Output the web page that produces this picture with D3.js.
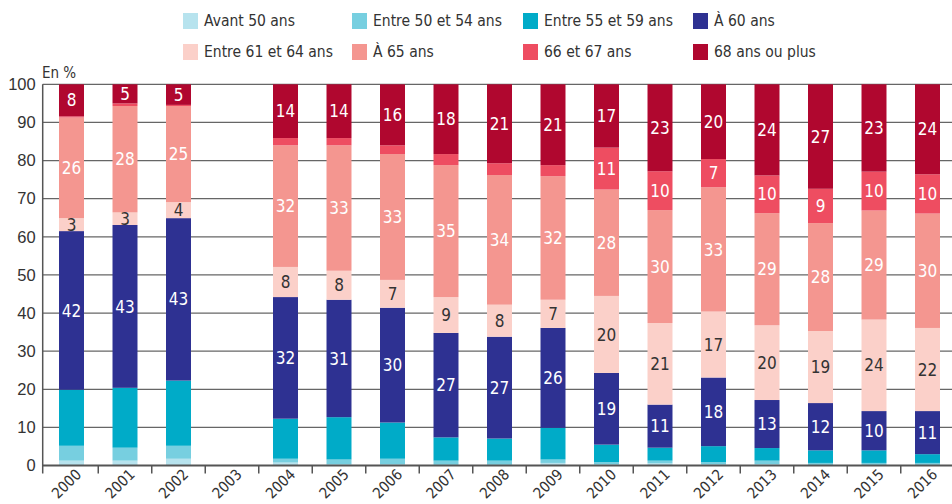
<!DOCTYPE html>
<html>
<head>
<meta charset="utf-8">
<script src="https://cdn.jsdelivr.net/npm/d3@7"></script>
<style>
  body { margin: 0; background: #fff; }
  svg { display: block; font-family: "Liberation Sans Narrow", "DejaVu Sans Condensed", "Roboto", sans-serif; font-stretch: condensed; }
</style>
</head>
<body>
<svg id="chart" width="952" height="504"></svg>
<script>
// =========================
// DATI
// =========================
const years = ["2000", "2001", "2002", "2003", "2004", "2005", "2006", "2007", "2008",
  "2009", "2010", "2011", "2012", "2013", "2014", "2015", "2016"];

const seriesNames = ["Avant 50 ans", "Entre 50 et 54 ans", "Entre 55 et 59 ans", "À 60 ans",
  "Entre 61 et 64 ans", "À 65 ans", "66 et 67 ans", "68 ans ou plus"];

const seriesColors = ["#b7e3ee", "#77cfe0", "#00abc8", "#2e3192",
  "#fbd0c9", "#f49690", "#ee4d61", "#b0072f"];

// valeurs en %, 2003 sans donnees
const avant50   = [1.3, 1.3, 1.8, null, 0.8, 0.3, 0.3, 0.2, 0.2, 0.7, 0.3, 0.6, 0.3, 0.4, 0.2, 0.2, 0.2];
const de50a54   = [3.9, 3.4, 3.4, null, 1.0, 1.3, 1.5, 1.1, 1.1, 0.9, 0.6, 0.7, 0.6, 0.9, 0.5, 0.5, 0.5];
const de55a59   = [14.7, 15.7, 17.1, null, 10.5, 11.1, 9.5, 6.1, 5.8, 8.3, 4.6, 3.4, 4.2, 3.3, 3.3, 3.3, 2.3];
const a60       = [41.6, 42.7, 42.6, null, 31.9, 30.8, 30.1, 27.4, 26.7, 26.2, 18.8, 11.3, 18.0, 12.6, 12.4, 10.3, 11.3];
const de61a64   = [3.4, 3.3, 4.2, null, 7.9, 7.6, 7.3, 9.4, 8.4, 7.4, 20.2, 21.4, 17.3, 19.6, 18.9, 24.0, 21.8];
const a65       = [26.4, 27.9, 25.2, null, 31.9, 32.9, 33.0, 34.6, 34.0, 32.4, 27.9, 29.6, 32.6, 29.4, 28.3, 28.6, 30.0];
const de66a67   = [0.3, 0.7, 0.3, null, 1.9, 1.9, 2.3, 2.9, 3.1, 2.9, 11.0, 10.2, 7.4, 9.9, 9.0, 10.2, 10.3];
const plus68    = [8.4, 5.0, 5.4, null, 14.1, 14.1, 16.0, 18.3, 20.7, 21.2, 16.6, 22.8, 19.6, 23.9, 27.4, 22.9, 23.6];

const seriesValues = [avant50, de50a54, de55a59, a60, de61a64, a65, de66a67, plus68];

const yTicks = [0, 10, 20, 30, 40, 50, 60, 70, 80, 90, 100];

// =========================
// GRAFICO
// =========================
const svg = d3.select("#chart");

const x = d3.scaleBand()
  .domain(years)
  .range([44.75, 44.75 + 17 * 53.5])
  .paddingInner(0.533)
  .paddingOuter(0.2665);

const y = d3.scaleLinear().domain([0, 100]).range([465.6, 84.3]);

// tableau pour d3.stack
const table = years.map((yr, i) => {
  const row = { year: yr };
  seriesNames.forEach((s, k) => { row[s] = seriesValues[k][i] || 0; });
  return row;
});

const stack = d3.stack().keys(seriesNames);
const layers = stack(table);

// grille + axe Y
const yAxis = svg.append("g")
  .attr("transform", "translate(42.7,0)")
  .call(d3.axisLeft(y).tickValues(yTicks).tickSize(0).tickPadding(7));
yAxis.select(".domain").remove();
yAxis.selectAll("text")
  .attr("font-size", 16.5)
  .attr("fill", "#333")
  .attr("font-family", null);

svg.append("g").selectAll("line")
  .data(yTicks.filter(t => t > 0))
  .join("line")
  .attr("x1", 42.7).attr("x2", 952)
  .attr("y1", d => y(d)).attr("y2", d => y(d))
  .attr("stroke", "#666")
  .attr("stroke-width", 1.2);

// barres
const layerG = svg.append("g").selectAll("g")
  .data(layers)
  .join("g")
  .attr("fill", (d, i) => seriesColors[i]);

layerG.selectAll("rect")
  .data(d => d.filter(p => p[1] > p[0]))
  .join("rect")
  .attr("x", d => x(d.data.year))
  .attr("width", x.bandwidth())
  .attr("y", d => y(d[1]))
  .attr("height", d => y(d[0]) - y(d[1]));

// etiquettes
layers.forEach((layer, i) => {
  if (i < 3) return;
  const minVal = i === 6 ? 5 : 3.2;
  svg.append("g").selectAll("text")
    .data(layer.filter(p => p[1] - p[0] >= minVal))
    .join("text")
    .attr("x", d => x(d.data.year) + x.bandwidth() / 2)
    .attr("y", d => y((d[0] + d[1]) / 2))
    .attr("dy", "0.36em")
    .attr("text-anchor", "middle")
    .attr("font-size", 17)
    .attr("fill", i === 4 ? "#333" : "#fff")
    .text(d => Math.round(d[1] - d[0]));
});

// axe X
svg.append("line")
  .attr("x1", 42.7).attr("x2", 952)
  .attr("y1", y(0)).attr("y2", y(0))
  .attr("stroke", "#555")
  .attr("stroke-width", 2);

svg.append("line")
  .attr("x1", 42.7).attr("x2", 42.7)
  .attr("y1", y(100)).attr("y2", y(0) + 8)
  .attr("stroke", "#555")
  .attr("stroke-width", 1.5);

const step = x.step();
svg.append("g").selectAll("line")
  .data(years.slice(0, -1))
  .join("line")
  .attr("x1", d => x(d) + x.bandwidth() + (step - x.bandwidth()) / 2)
  .attr("x2", d => x(d) + x.bandwidth() + (step - x.bandwidth()) / 2)
  .attr("y1", y(0)).attr("y2", y(0) + 8)
  .attr("stroke", "#555")
  .attr("stroke-width", 1.5);

svg.append("g").selectAll("text")
  .data(years)
  .join("text")
  .attr("transform", d => `translate(${x(d) + x.bandwidth() / 2 + 7},${y(0) + 6}) rotate(-45)`)
  .attr("text-anchor", "end")
  .attr("dy", "0.35em")
  .attr("font-size", 15)
  .attr("fill", "#333")
  .text(d => d);

svg.append("text")
  .attr("x", 42).attr("y", 78)
  .attr("font-size", 15)
  .attr("fill", "#333")
  .text("En %");

// legende
const legendX = [183, 352, 523, 693];
const legend = svg.append("g").selectAll("g")
  .data(seriesNames)
  .join("g")
  .attr("transform", (d, i) => `translate(${legendX[i % 4]},${i < 4 ? 13 : 44})`);

legend.append("rect")
  .attr("width", 15).attr("height", 16)
  .attr("fill", (d, i) => seriesColors[i]);

legend.append("text")
  .attr("x", 21).attr("y", 8)
  .attr("dy", "0.35em")
  .attr("font-size", 15.5)
  .attr("fill", "#333")
  .text(d => d);
</script>
</body>
</html>
